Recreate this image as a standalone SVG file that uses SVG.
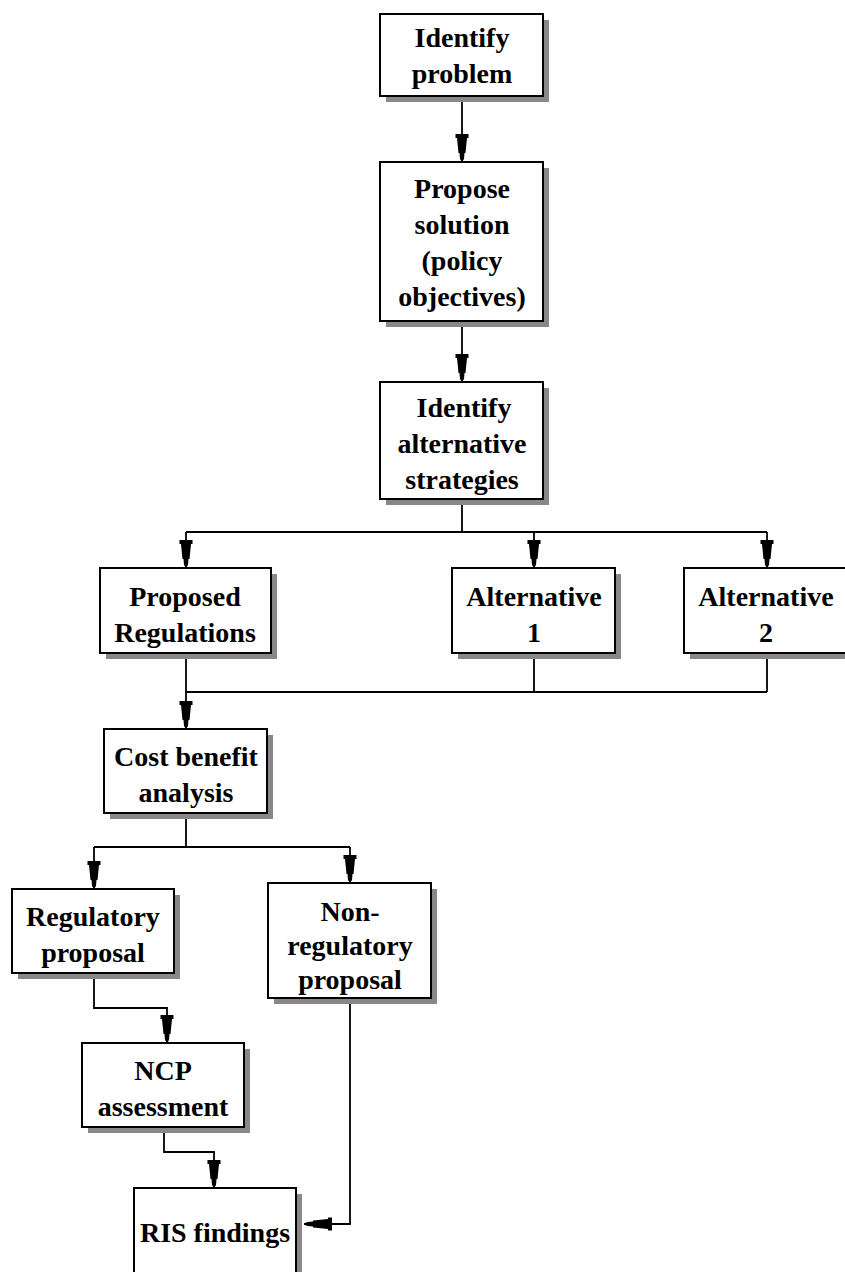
<svg xmlns="http://www.w3.org/2000/svg" width="845" height="1272" viewBox="0 0 845 1272">
<style>
.box{fill:#ffffff;stroke:#000;stroke-width:2}
.sh{fill:#8a868a}
.t{font-family:"Liberation Serif","Times New Roman",serif;font-weight:bold;font-size:28px;fill:#000;text-anchor:middle}
.c{fill:none;stroke:#000;stroke-width:1.8}
</style>
<defs>
<marker id="ah" markerUnits="userSpaceOnUse" orient="auto" viewBox="-30 -8 32 16" markerWidth="32" markerHeight="16" refX="0" refY="0">
<path d="M0,0 L-3,-2 L-9,-2.5 L-9,-3.5 L-24,-5 L-24,-6.5 L-28,-6.5 L-28,6.5 L-24,6.5 L-24,5 L-9,3.5 L-9,2.5 L-3,2 Z" fill="#000"/>
</marker>
</defs>
<rect width="845" height="1272" fill="#fff"/>
<g id="connectors">
<path class="c" d="M462,96 V162" marker-end="url(#ah)"/>
<path class="c" d="M462,321 V382" marker-end="url(#ah)"/>
<path class="c" d="M462,499 V532 M186,532 H767"/>
<path class="c" d="M186,532 V568" marker-end="url(#ah)"/>
<path class="c" d="M534,532 V568" marker-end="url(#ah)"/>
<path class="c" d="M767,532 V568" marker-end="url(#ah)"/>
<path class="c" d="M534,653 V692 M767,653 V692 M186,692 H767"/>
<path class="c" d="M186,653 V729" marker-end="url(#ah)"/>
<path class="c" d="M186,813 V847 M94,847 H350"/>
<path class="c" d="M94,847 V889" marker-end="url(#ah)"/>
<path class="c" d="M350,847 V883" marker-end="url(#ah)"/>
<path class="c" d="M94,973 V1008 H167 V1043" marker-end="url(#ah)"/>
<path class="c" d="M164,1127 V1152 H214 V1188" marker-end="url(#ah)"/>
<path class="c" d="M350,998 V1224 H304" marker-end="url(#ah)"/>
</g>
<g id="identify-problem">
<rect class="sh" x="386" y="20" width="163" height="82"/>
<rect class="box" x="380" y="14" width="163" height="82"/>
<text class="t" x="462" y="47">Identify</text>
<text class="t" x="462" y="83">problem</text>
</g>
<g id="propose-solution">
<rect class="sh" x="386" y="168" width="163" height="159"/>
<rect class="box" x="380" y="162" width="163" height="159"/>
<text class="t" x="462" y="198">Propose</text>
<text class="t" x="462" y="234">solution</text>
<text class="t" x="462" y="270">(policy</text>
<text class="t" x="462" y="306">objectives)</text>
</g>
<g id="identify-alternatives">
<rect class="sh" x="386" y="388" width="163" height="117"/>
<rect class="box" x="380" y="382" width="163" height="117"/>
<text class="t" x="464" y="417">Identify</text>
<text class="t" x="462" y="453">alternative</text>
<text class="t" x="462" y="489">strategies</text>
</g>
<g id="proposed-regulations">
<rect class="sh" x="106" y="574" width="171" height="85"/>
<rect class="box" x="100" y="568" width="171" height="85"/>
<text class="t" x="185" y="606">Proposed</text>
<text class="t" x="185" y="642">Regulations</text>
</g>
<g id="alternative-1">
<rect class="sh" x="458" y="574" width="163" height="85"/>
<rect class="box" x="452" y="568" width="163" height="85"/>
<text class="t" x="534" y="606">Alternative</text>
<text class="t" x="534" y="642">1</text>
</g>
<g id="alternative-2">
<rect class="sh" x="690" y="574" width="163" height="85"/>
<rect class="box" x="684" y="568" width="164" height="85"/>
<text class="t" x="766" y="606">Alternative</text>
<text class="t" x="766" y="642">2</text>
</g>
<g id="cost-benefit">
<rect class="sh" x="110" y="735" width="163" height="84"/>
<rect class="box" x="104" y="729" width="163" height="84"/>
<text class="t" x="186" y="766">Cost benefit</text>
<text class="t" x="186" y="802">analysis</text>
</g>
<g id="regulatory-proposal">
<rect class="sh" x="18" y="895" width="162" height="84"/>
<rect class="box" x="12" y="889" width="162" height="84"/>
<text class="t" x="93" y="926">Regulatory</text>
<text class="t" x="93" y="962">proposal</text>
</g>
<g id="non-regulatory-proposal">
<rect class="sh" x="274" y="889" width="163" height="115"/>
<rect class="box" x="268" y="883" width="163" height="115"/>
<text class="t" x="350" y="921">Non-</text>
<text class="t" x="350" y="955">regulatory</text>
<text class="t" x="350" y="989">proposal</text>
</g>
<g id="ncp-assessment">
<rect class="sh" x="88" y="1049" width="162" height="84"/>
<rect class="box" x="82" y="1043" width="162" height="84"/>
<text class="t" x="163" y="1080">NCP</text>
<text class="t" x="163" y="1116">assessment</text>
</g>
<g id="ris-findings">
<rect class="sh" x="140" y="1194" width="162" height="90"/>
<rect class="box" x="134" y="1188" width="162" height="95"/>
<text class="t" x="215" y="1242">RIS findings</text>
</g>
</svg>
